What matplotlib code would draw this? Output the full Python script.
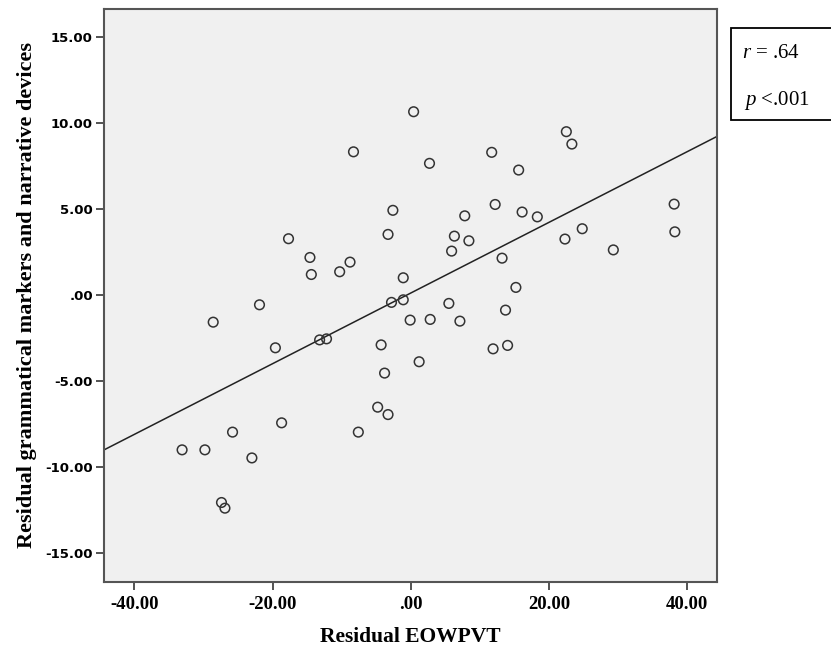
import numpy as np
import matplotlib
matplotlib.use("Agg")
import matplotlib.pyplot as plt
from matplotlib.patches import Rectangle
from matplotlib.ticker import FuncFormatter

# residual scores
eowpvt = [0.4, -8.3, -2.6, -3.3, -17.7, -14.6, -8.8, -14.4, -10.3, -1.1,
          2.7, 22.5, 23.3, 11.7, 15.6, 12.2, 38.1, 16.1, 18.3, 7.8,
          6.3, 8.4, 24.8, 22.3, 38.2, 5.9, 29.3, 13.2, 15.2, -2.8,
          -1.1, -0.1, 1.2, -21.9, -28.6, -19.6, -13.2, -12.2, -4.3, -3.8,
          -4.8, -3.3, -7.6, -18.7, -25.8, -33.1, -29.8, -23.0, -27.4, -26.9,
          5.5, 13.7, 2.8, 7.1, 11.9, 14.0]
grammar = [10.63, 8.30, 4.90, 3.50, 3.25, 2.16, 1.89, 1.17, 1.33, 0.98,
           7.63, 9.47, 8.75, 8.27, 7.24, 5.24, 5.26, 4.80, 4.52, 4.58,
           3.40, 3.13, 3.83, 3.23, 3.65, 2.53, 2.60, 2.12, 0.42, -0.45,
           -0.30, -1.48, -3.90, -0.59, -1.60, -3.09, -2.63, -2.57, -2.92, -4.56,
           -6.54, -6.97, -7.99, -7.45, -7.99, -9.02, -9.02, -9.49, -12.08, -12.41,
           -0.51, -0.90, -1.44, -1.54, -3.15, -2.95]
x_ticks = [-40, -20, 0, 20, 40]
y_ticks = [15, 10, 5, 0, -5, -10, -15]
r_text = ".64"
p_text = "<.001"

plt.rcParams['mathtext.fontset'] = 'custom'
plt.rcParams['mathtext.rm'] = 'Liberation Serif'
plt.rcParams['mathtext.it'] = 'Liberation Serif:italic'

fig = plt.figure(figsize=(8.31, 6.49), dpi=100)
ax = fig.add_axes([104/831, 1 - 582/649, (717-104)/831, (582-9)/649])
ax.set_facecolor('#f0f0f0')

x = np.array(eowpvt)
y = np.array(grammar)
ax.scatter(x, y, s=48, facecolors='none', edgecolors='#333333', linewidths=1.1, zorder=3)

# linear fit line
slope, intercept = np.polyfit(x, y, 1)
xl = np.array([-44.4, 44.3])
ax.plot(xl, slope * xl + intercept, color='#222222', lw=1.1, zorder=2)

ax.set_xlim(-44.4, 44.3)
ax.set_ylim(-16.7, 16.6)
ax.set_xticks(x_ticks)
ax.set_yticks(y_ticks)

def fmt(v, pos):
    s = f"{v:.2f}"
    if s.startswith("0"):
        s = s[1:]
    return s

ax.xaxis.set_major_formatter(FuncFormatter(fmt))
ax.yaxis.set_major_formatter(FuncFormatter(fmt))
ax.tick_params(direction='out', length=6, width=1.3, color='#444444')
for lab in ax.get_xticklabels():
    lab.set_fontfamily('Liberation Serif')
    lab.set_fontweight('bold')
    lab.set_fontsize(13.5)
for lab in ax.get_yticklabels():
    lab.set_fontfamily('DejaVu Sans')
    lab.set_fontweight('bold')
    lab.set_fontsize(9.5)
ax.tick_params(axis='x', pad=4)
ax.tick_params(axis='y', pad=2)

for sp in ax.spines.values():
    sp.set_color('#555555')
    sp.set_linewidth(1.5)

ax.set_xlabel("Residual EOWPVT", fontfamily='Liberation Serif', fontweight='bold',
              fontsize=15.5, labelpad=10)
ax.set_ylabel("Residual grammatical markers and narrative devices",
              fontfamily='Liberation Serif', fontweight='bold', fontsize=16, labelpad=6)

# stats box
fig.patches.append(Rectangle((731/831, 1 - 120/649), 0.2, 92/649, transform=fig.transFigure,
                             facecolor='white', edgecolor='black', lw=1.3))
fig.text(742/831, 1 - 53/649, r"$r$ = " + r_text, fontfamily='Liberation Serif',
         fontsize=15, va='center', ha='left')
fig.text(744/831, 1 - 100/649, r"$p$ " + p_text, fontfamily='Liberation Serif',
         fontsize=15, va='center', ha='left')

plt.savefig("out.png", dpi=100)
